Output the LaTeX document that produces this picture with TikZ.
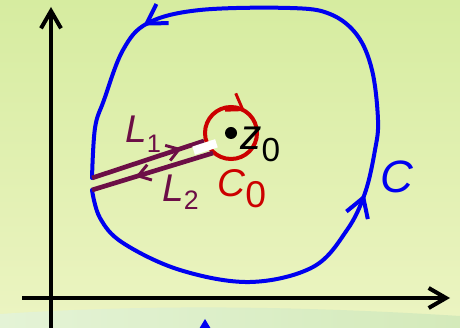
\documentclass[tikz,border=0pt]{standalone}
\usepackage{fontspec}
\setmainfont{Liberation Sans}
\usetikzlibrary{arrows.meta,decorations.markings}

\definecolor{curveblue}{RGB}{0,0,240}
\definecolor{circred}{RGB}{204,0,0}
\definecolor{cutpurple}{RGB}{108,14,70}
\definecolor{bgtop}{RGB}{214,236,160}
\definecolor{bgbot}{RGB}{236,244,194}
\definecolor{bandl}{RGB}{228,243,214}
\definecolor{bandr}{RGB}{212,234,186}

\newcommand{\lowidx}[3]{\raisebox{-#2}{\fontsize{#1}{#1}\selectfont #3}}

\begin{document}
\begin{tikzpicture}[
  x=0.75pt, y=0.75pt,
  axisline/.style={draw=black, line width=3pt, -{Straight Barb[length=13pt,width=15pt]}},
  contour/.style={draw=curveblue, line width=3pt, line cap=round},
  cutline/.style={draw=cutpurple, line width=3.5pt},
  lbl/.style={anchor=base west, inner sep=0pt, font=\fontsize{29}{31}\selectfont}
]
  % background
  \useasboundingbox (0,0) rectangle (460,328);
  \shade[top color=bgtop, bottom color=bgbot] (0,0) rectangle (460,328);
  \shade[left color=bandl, right color=bandr] (0,0) -- (0,14) .. controls (150,24) and (300,22) .. (460,12) -- (460,0) -- cycle;
  \fill[curveblue] (205,9) -- (199,-1) -- (211,-1) -- cycle;

  % axes
  \coordinate (ybot) at (51,-2);
  \coordinate (ytop) at (51,321);
  \coordinate (xlft) at (22,30);
  \coordinate (xrgt) at (450,30);
  \draw[axisline] (ybot) -- (ytop);
  \draw[axisline] (xlft) -- (xrgt);

  % contour C, cut open on the left
  \coordinate (c1) at (92,150);
  \coordinate (c2) at (92,138);
  \draw[contour, postaction={decorate}, decoration={markings,
      mark=at position 0.39 with {\arrow{Straight Barb[length=14pt,width=17pt]}},
      mark=at position 0.818 with {\arrow{Straight Barb[length=14pt,width=17pt]}}}]
    plot[smooth, tension=0.6] coordinates {(c2) (100,110) (123,85) (180,58) (250,46) (313,61) (347,98) (365,135)
      (375,178) (378,208) (372,258) (357,293) (330,314) (290,320) (200,318) (148,305)
      (123,278) (104,228) (95,200) (c1)};

  % small circle C0 round z0
  \coordinate (z0) at (231,195);
  \draw[circred, line width=3pt, postaction={decorate}, decoration={markings,
      mark=at position 0.16 with {\arrowreversed{Straight Barb[length=11pt,width=15pt,line width=2.2pt]}}}]
    (z0) circle[radius=26];
  \node[circle, fill=black, minimum size=9pt, inner sep=0pt] (dot) at (z0) {};

  % the two cuts
  \coordinate (k1) at (204,187);
  \coordinate (k2) at (213,175);
  \draw[cutline, postaction={decorate}, decoration={markings,
      mark=at position 0.8 with {\arrow{Straight Barb[length=9pt,width=12pt,line width=2.2pt]}}}]
    (c1) -- (k1);
  \draw[cutline, postaction={decorate}, decoration={markings,
      mark=at position 0.64 with {\arrow{Straight Barb[length=9pt,width=12pt,line width=2.2pt]}}}]
    (k2) -- (c2);
  \node[fill=white, minimum width=18pt, minimum height=6.5pt, inner sep=0pt, rotate=18] (slit) at (205,181) {};

  % labels
  \node[lbl, text=cutpurple] (l1) at (125,185) {\textit{L}\lowidx{19pt}{7pt}{1}};
  \node[lbl, text=cutpurple] (l2) at (162,126) {\textit{L}\lowidx{20pt}{6pt}{2}};
  \node[lbl, text=circred] (cz) at (217,131) {\textit{C}\lowidx{28pt}{8pt}{0}};
  \node[lbl, text=curveblue, font=\fontsize{34}{36}\selectfont] (cc) at (380,135) {\textit{C}};
  \node[lbl, font=\fontsize{32}{34}\selectfont] (zz) at (240,178) {\textit{z}\lowidx{25pt}{9pt}{0}};
\end{tikzpicture}
\end{document}
